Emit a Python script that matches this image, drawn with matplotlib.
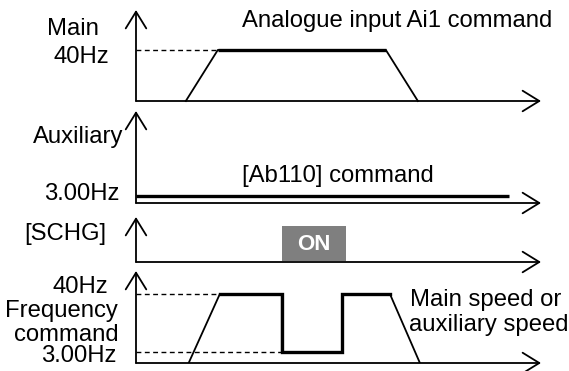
import numpy as np
import matplotlib
matplotlib.use('Agg')
import matplotlib.pyplot as plt

plt.rcParams['font.family'] = ['Liberation Sans', 'DejaVu Sans']

# time points (arbitrary units, 0 = origin of time axis, 100 = arrow tip)
main_t = [12.3, 20.2, 61.7, 69.6]
main_hz = [0, 40, 40, 0]

aux_t = [0, 92]
aux_hz = [3, 3]

schg_t = [36, 51.9]

freq_t = [13, 20.7, 36, 36, 50.9, 50.9, 62.7, 70.1]
freq_hz = [0, 40, 40, 3, 3, 40, 40, 0]

W, H = 569, 371
X0, X1 = 136, 541

fig = plt.figure(figsize=(W / 100, H / 100), dpi=100)


def panel(base, tip, knots_hz, knots_px, lin=False):
  h = base - tip
  ax = fig.add_axes([X0 / W, 1 - base / H, (X1 - X0) / W, h / H])
  if not lin:
    fwd = lambda v: np.interp(v, knots_hz, knots_px)
    inv = lambda p: np.interp(p, knots_px, knots_hz)
    ax.set_yscale('function', functions=(fwd, inv))
    ax.set_ylim(0, float(inv(h)))
  else:
    ax.set_ylim(0, h / knots_px)
  ax.set_xlim(0, 100)
  ax.axis('off')
  arr = dict(arrowstyle='->,head_length=0.6,head_width=0.37', lw=1.3,
             color='black', shrinkA=0, shrinkB=0, mutation_scale=20)
  ax.annotate('', xy=(1, 0), xytext=(0, 0), xycoords='axes fraction',
              arrowprops=arr, annotation_clip=False)
  ax.annotate('', xy=(0, 1), xytext=(0, 0), xycoords='axes fraction',
              arrowprops=arr, annotation_clip=False)
  return ax


thick = 2.4
thin = 1.3

# Main
ax1 = panel(101, 10, [0, 40, 400], [0, 51, 510])
ax1.plot([0, main_t[1]], [40, 40], '--', color='black', lw=1.0, dashes=(3.5, 2.5))
ax1.plot(main_t, main_hz, color='black', lw=thin, clip_on=False)
ax1.plot(main_t[1:3], main_hz[1:3], color='black', lw=thick, solid_capstyle='butt')

# Auxiliary
ax2 = panel(203, 111, [0, 3, 400], [0, 7, 1000])
ax2.plot(aux_t, aux_hz, color='black', lw=thick, solid_capstyle='butt')

# SCHG
ax3 = panel(262, 217, None, 36, lin=True)
ax3.fill_between(schg_t, 0.02, 1, color='#7f7f7f', lw=0)
ax3.text(np.mean(schg_t), 0.5, 'ON', color='white', fontsize=16, fontweight='bold',
         ha='center', va='center')

# Frequency command
ax4 = panel(363, 271, [0, 3, 40, 400], [0, 11, 69, 700])
ax4.plot([0, freq_t[1]], [40, 40], '--', color='black', lw=1.0, dashes=(3.5, 2.5))
ax4.plot([0, freq_t[2]], [3, 3], '--', color='black', lw=1.0, dashes=(3.5, 2.5))
ax4.plot(freq_t, freq_hz, color='black', lw=thin)
ax4.plot(freq_t[1:7], freq_hz[1:7], color='black', lw=thick, solid_joinstyle='miter')

# labels in pixel coordinates
tx = fig.add_axes([0, 0, 1, 1])
tx.set_xlim(0, W)
tx.set_ylim(H, 0)
tx.axis('off')
fs = 17.2
tx.text(73, 35, 'Main', fontsize=fs, ha='center', va='baseline')
tx.text(109, 63, '40Hz', fontsize=fs, ha='right', va='baseline')
tx.text(397, 27, 'Analogue input Ai1 command', fontsize=fs, ha='center', va='baseline')
tx.text(123, 143, 'Auxiliary', fontsize=fs, ha='right', va='baseline')
tx.text(120, 200, '3.00Hz', fontsize=fs, ha='right', va='baseline')
tx.text(338, 182, '[Ab110] command', fontsize=fs, ha='center', va='baseline')
tx.text(65, 240, '[SCHG]', fontsize=fs, ha='center', va='baseline')
tx.text(108, 293, '40Hz', fontsize=fs, ha='right', va='baseline')
tx.text(118, 317, 'Frequency', fontsize=fs, ha='right', va='baseline')
tx.text(119, 341, 'command', fontsize=fs, ha='right', va='baseline')
tx.text(117, 362, '3.00Hz', fontsize=fs, ha='right', va='baseline')
tx.text(410, 306, 'Main speed or', fontsize=fs, ha='left', va='baseline')
tx.text(409, 331, 'auxiliary speed', fontsize=fs, ha='left', va='baseline')

fig.savefig('out.png', dpi=100)
